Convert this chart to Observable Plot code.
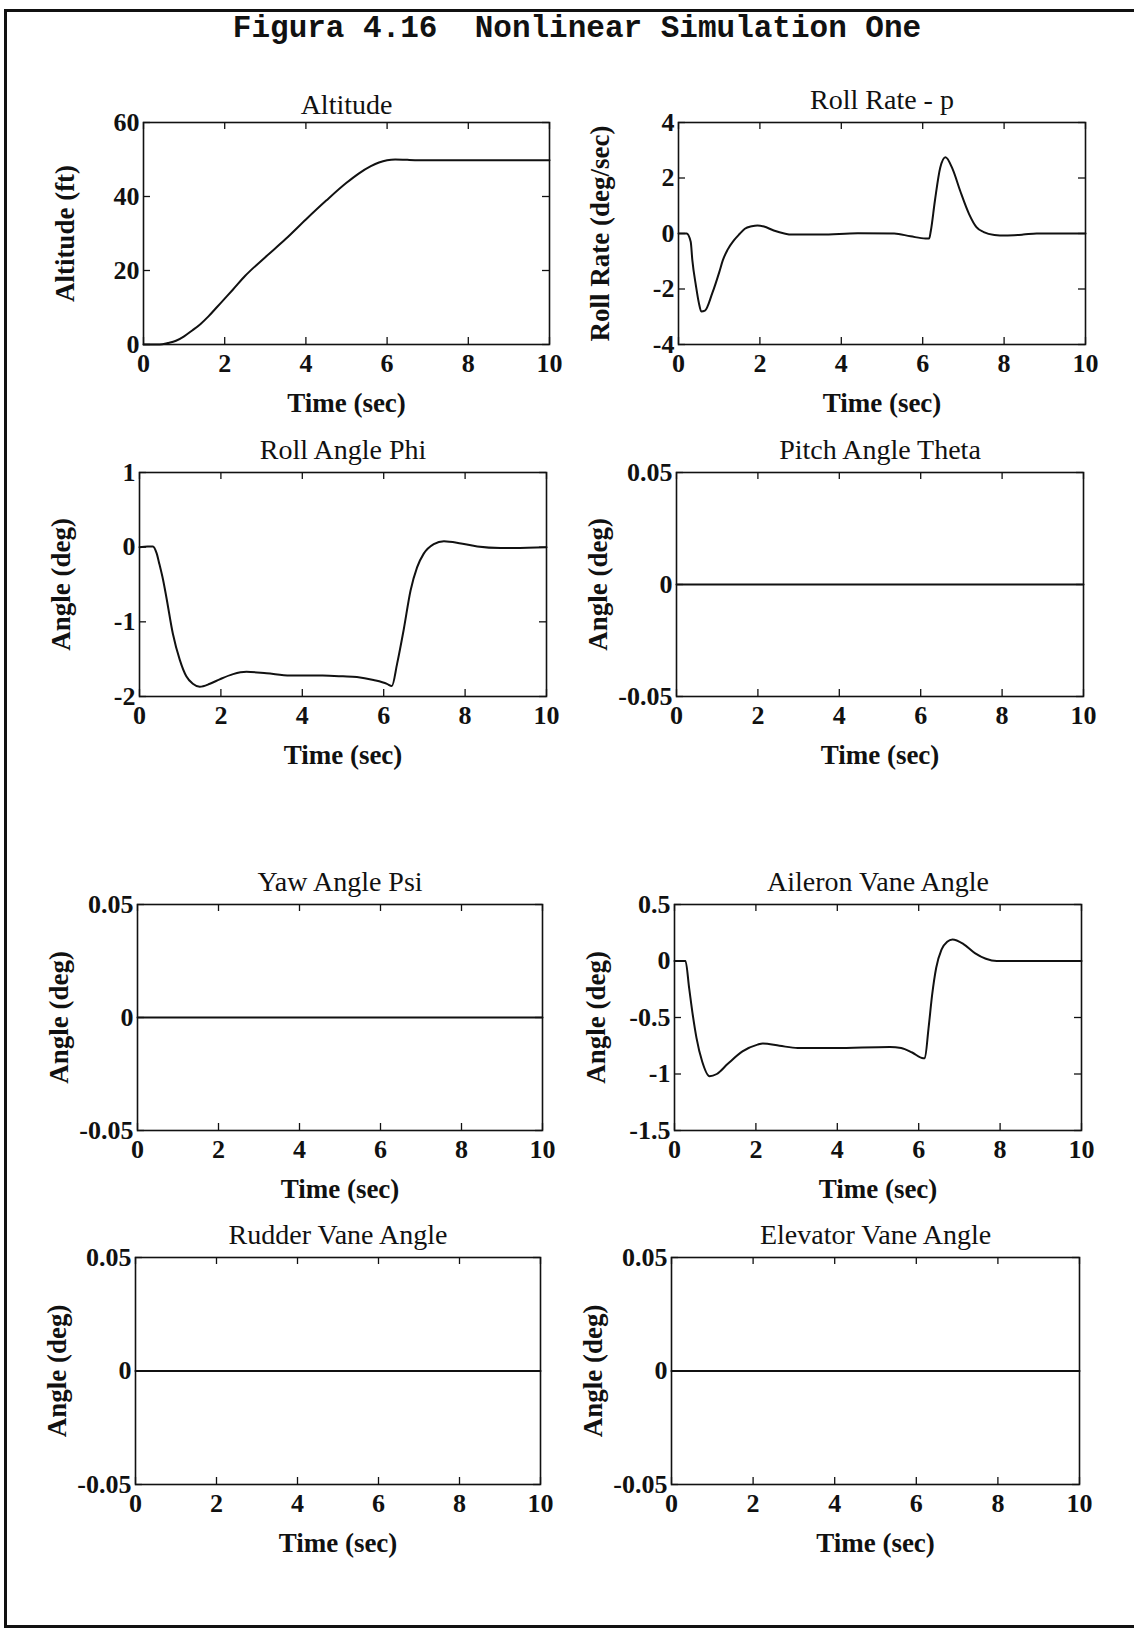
<!DOCTYPE html>
<html>
<head>
<meta charset="utf-8">
<script src="https://cdn.jsdelivr.net/npm/d3@7"></script>
<script src="https://cdn.jsdelivr.net/npm/@observablehq/plot@0.6"></script>
<style>
  html, body { margin: 0; padding: 0; background: #fff; }
  #page { position: relative; width: 1134px; height: 1630px; overflow: hidden; background: #fff; }
  #border { position: absolute; left: 4px; top: 9px; width: 1160px; height: 1613px;
            border-top: 3px solid #111; border-left: 3px solid #111; border-bottom: 3px solid #111; }
  #title { position: absolute; left: 0; width: 1154px; top: 10px; text-align: center;
           font-family: "Liberation Mono", "DejaVu Sans Mono", monospace; font-weight: bold;
           font-size: 31px; line-height: 38px; color: #111; white-space: pre; }
</style>
</head>
<body>
<div id="page">
  <div id="border"></div>
  <div id="title">Figura 4.16  Nonlinear Simulation One</div>
</div>
<script>
// ---------- data ----------
const timeTicks = [0, 2, 4, 6, 8, 10];
const xLabel = "Time (sec)";

const altT = [0, 0.4, 0.6, 0.8, 1.0, 1.2, 1.4, 1.6, 1.8, 2.0, 2.2, 2.5, 3.0, 3.5, 4.0, 4.5, 5.0, 5.3, 5.6, 5.8, 6.0, 6.2, 6.5, 7, 8, 9, 10];
const altV = [0, 0, 0.4, 1.0, 2.2, 3.8, 5.5, 7.6, 10.0, 12.4, 14.8, 18.5, 23.6, 28.5, 33.8, 38.9, 43.7, 46.2, 48.2, 49.2, 49.8, 50.0, 49.9, 49.8, 49.8, 49.8, 49.8];
const altTicks = [0, 20, 40, 60];

const rateT = [0, 0.2, 0.3, 0.34, 0.43, 0.5, 0.56, 0.65, 0.83, 1.0, 1.09, 1.2, 1.36, 1.5, 1.63, 1.8, 1.94, 2.1, 2.34, 2.6, 2.78, 3.5, 4.4, 5.3, 5.7, 6.07, 6.16, 6.2, 6.3, 6.43, 6.56, 6.74, 6.92, 7.14, 7.32, 7.5, 7.76, 8.03, 8.47, 8.8, 10];
const rateV = [0, 0, -0.3, -0.96, -1.9, -2.5, -2.81, -2.78, -2.15, -1.4, -0.96, -0.6, -0.25, -0.02, 0.17, 0.26, 0.29, 0.25, 0.11, 0.0, -0.04, -0.04, 0.01, 0.0, -0.1, -0.18, -0.18, 0.1, 1.18, 2.37, 2.75, 2.3, 1.54, 0.7, 0.23, 0.05, -0.05, -0.07, -0.04, 0, 0];
const rateTicks = [-4, -2, 0, 2, 4];

const phiT = [0, 0.2, 0.33, 0.42, 0.49, 0.58, 0.66, 0.82, 0.99, 1.15, 1.31, 1.48, 1.73, 1.97, 2.3, 2.63, 3.12, 3.7, 4.5, 5.0, 5.34, 5.75, 6.08, 6.2, 6.33, 6.49, 6.66, 6.82, 6.98, 7.23, 7.48, 7.9, 8.3, 8.87, 9.2, 10];
const phiV = [0, 0.01, 0.01, -0.08, -0.23, -0.44, -0.67, -1.16, -1.51, -1.73, -1.83, -1.87, -1.83, -1.77, -1.70, -1.67, -1.69, -1.72, -1.72, -1.73, -1.74, -1.78, -1.83, -1.86, -1.56, -1.11, -0.58, -0.27, -0.09, 0.04, 0.08, 0.05, 0.01, -0.01, -0.01, 0.0];
const phiTicks = [-2, -1, 0, 1];

const thetaT = [0, 10];
const thetaV = [0, 0];
const psiT = [0, 10];
const psiV = [0, 0];
const rudderT = [0, 10];
const rudderV = [0, 0];
const elevT = [0, 10];
const elevV = [0, 0];
const smallTicks = [-0.05, 0, 0.05];

const ailT = [0, 0.27, 0.36, 0.45, 0.54, 0.68, 0.86, 1.04, 1.31, 1.67, 2.04, 2.17, 2.58, 3.03, 3.94, 5.29, 5.57, 5.84, 6.11, 6.15, 6.24, 6.33, 6.43, 6.56, 6.7, 6.83, 7.1, 7.38, 7.65, 7.92, 10];
const ailV = [0, 0, -0.24, -0.48, -0.68, -0.89, -1.02, -1.0, -0.91, -0.80, -0.74, -0.73, -0.75, -0.77, -0.77, -0.76, -0.77, -0.81, -0.86, -0.86, -0.6, -0.3, -0.06, 0.1, 0.17, 0.19, 0.15, 0.07, 0.02, 0.0, 0.0];
const ailTicks = [-1.5, -1, -0.5, 0, 0.5];

const titles = ["Altitude", "Roll Rate - p", "Roll Angle Phi", "Pitch Angle Theta", "Yaw Angle Psi", "Aileron Vane Angle", "Rudder Vane Angle", "Elevator Vane Angle"];
const yLabels = ["Altitude (ft)", "Roll Rate (deg/sec)", "Angle (deg)", "Angle (deg)", "Angle (deg)", "Angle (deg)", "Angle (deg)", "Angle (deg)"];

// ---------- layout ----------
const panels = [
  {t: altT, v: altV, ticks: altTicks, frame: [143, 122, 549, 344], titleDy: -9},
  {t: rateT, v: rateV, ticks: rateTicks, frame: [678, 122, 1085, 344], titleDy: -14},
  {t: phiT, v: phiV, ticks: phiTicks, frame: [139, 472, 546, 696], titleDy: -14},
  {t: thetaT, v: thetaV, ticks: smallTicks, frame: [676, 472, 1083, 696], titleDy: -14},
  {t: psiT, v: psiV, ticks: smallTicks, frame: [137, 904, 542, 1130], titleDy: -14},
  {t: ailT, v: ailV, ticks: ailTicks, frame: [674, 904, 1081, 1130], titleDy: -14},
  {t: rudderT, v: rudderV, ticks: smallTicks, frame: [135, 1257, 540, 1484], titleDy: -14},
  {t: elevT, v: elevV, ticks: smallTicks, frame: [671, 1257, 1079, 1484], titleDy: -14}
];

const page = document.getElementById("page");
const mL = 120, mR = 30, mT = 60, mB = 85, TICK = 7;
const serif = "Liberation Serif, Times New Roman, serif";
const ink = "#111";

panels.forEach((p, i) => {
  const [l, t, r, b] = p.frame;
  const W = r - l, H = b - t;
  const data = p.t.map((x, j) => ({x, y: p.v[j]}));
  const svg = Plot.plot({
    width: W + mL + mR,
    height: H + mT + mB,
    marginLeft: mL, marginRight: mR, marginTop: mT, marginBottom: mB,
    style: {background: "transparent", fontFamily: serif, color: ink, overflow: "visible"},
    x: {domain: [0, 10]},
    y: {domain: [p.ticks[0], p.ticks[p.ticks.length - 1]]},
    marks: [
      Plot.ruleX(timeTicks, {x: d => d, insetBottom: H - TICK, stroke: ink, strokeWidth: 1.3}),
      Plot.ruleX(timeTicks, {x: d => d, insetTop: H - TICK, stroke: ink, strokeWidth: 1.3}),
      Plot.ruleY(p.ticks, {y: d => d, insetRight: W - TICK, stroke: ink, strokeWidth: 1.3}),
      Plot.ruleY(p.ticks, {y: d => d, insetLeft: W - TICK, stroke: ink, strokeWidth: 1.3}),
      Plot.frame({stroke: ink, strokeWidth: 1.6}),
      Plot.axisX({ticks: timeTicks, tickSize: 0, tickPadding: 9, tickFormat: d => String(d),
                  fontSize: 26, fontWeight: "bold", label: null}),
      Plot.axisY({ticks: p.ticks, tickSize: 0, tickPadding: 4, tickFormat: d => String(d),
                  fontSize: 26, fontWeight: "bold", label: null}),
      Plot.line(data, {x: "x", y: "y", stroke: ink, strokeWidth: 2, curve: "monotone-x"}),
      Plot.text([titles[i]], {text: d => d, frameAnchor: "top", lineAnchor: "bottom", dy: p.titleDy,
                              fontSize: 28, fill: ink}),
      Plot.text([xLabel], {text: d => d, frameAnchor: "bottom", lineAnchor: "middle", dy: 59,
                           fontSize: 27, fontWeight: "bold", fill: ink}),
      Plot.text([yLabels[i]], {text: d => d, frameAnchor: "left", textAnchor: "middle", lineAnchor: "middle",
                               dx: -78, rotate: -90, fontSize: 27, fontWeight: "bold", fill: ink})
    ]
  });
  svg.style.position = "absolute";
  svg.style.left = (l - mL) + "px";
  svg.style.top = (t - mT) + "px";
  svg.style.maxWidth = "none";
  page.appendChild(svg);
});
</script>
</body>
</html>
